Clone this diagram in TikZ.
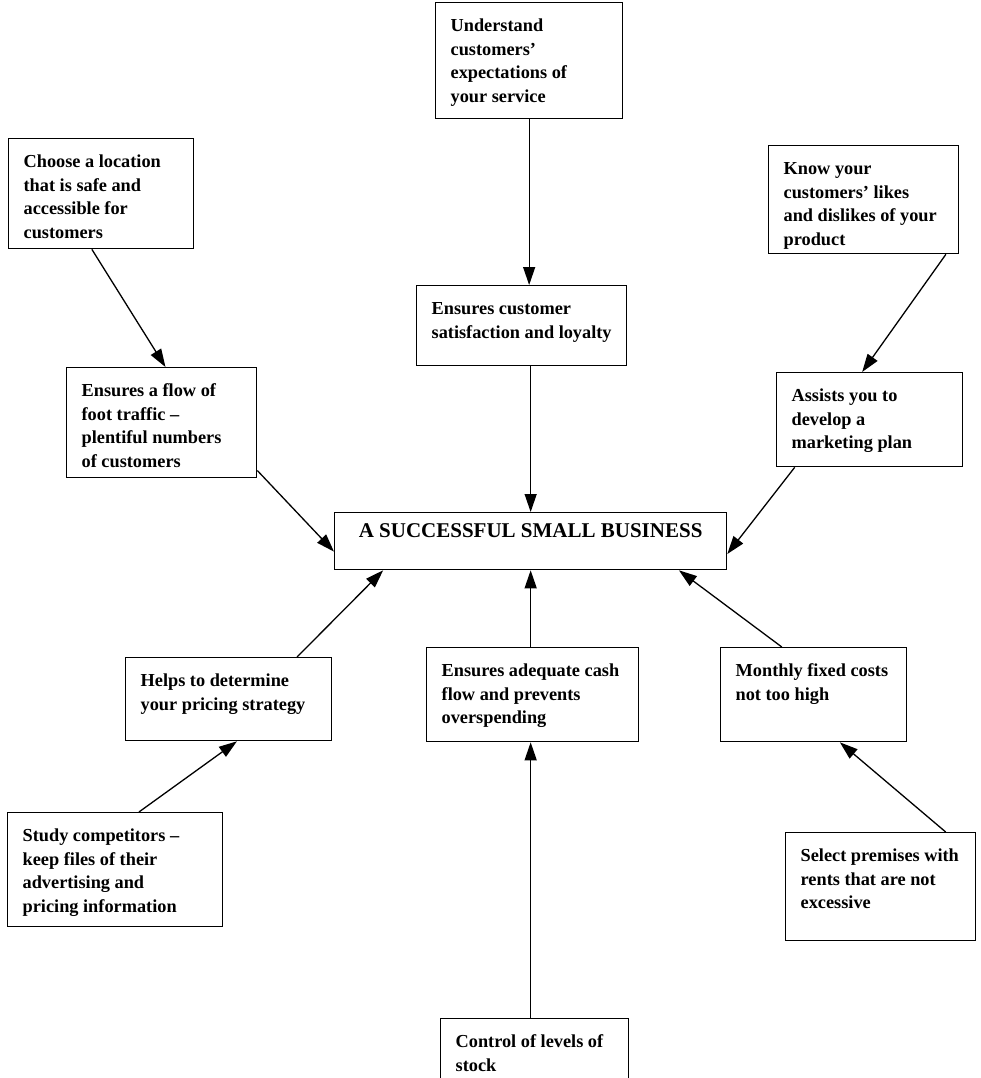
\documentclass[tikz,border=0pt]{standalone}
\usepackage{fontspec}
\setmainfont{Liberation Serif}
\usetikzlibrary{arrows.meta,calc}
% top-aligned text block of fixed width and height
\newcommand\boxtext[3]{\parbox[c][#2][t]{#1}{\raggedright\rule{0pt}{29pt}#3}}
\begin{document}
\begin{tikzpicture}[x=1pt,y=-1pt,
  bx/.style={draw, line width=1.3pt, inner xsep=15pt, inner ysep=0pt, anchor=north west,
             font=\bfseries\fontsize{18.3}{23.5}\selectfont},
  arr/.style={line width=1.3pt, -{Triangle[length=18pt,width=12pt]}}]
\useasboundingbox (0,0) rectangle (980,1078);

% outer ring of boxes
\node[bx] (u) at (435,2) {\boxtext{157pt}{116pt}{Understand\\customers’\\expectations of\\your service}};
\node[bx] (loc) at (8,138) {\boxtext{155pt}{110pt}{Choose a location\\that is safe and\\accessible for\\customers}};
\node[bx] (likes) at (768,145) {\boxtext{160pt}{108pt}{Know your\\customers’ likes\\and dislikes of your\\product}};
\node[bx] (sat) at (416,285) {\boxtext{180pt}{80pt}{Ensures customer\\satisfaction and loyalty}};
\node[bx] (foot) at (66,367) {\boxtext{160pt}{110pt}{Ensures a flow of\\foot traffic --\\plentiful numbers\\of customers}};
\node[bx] (mkt) at (776,372) {\boxtext{156pt}{94pt}{Assists you to\\develop a\\marketing plan}};

% centre
\node[bx] (centre) at (334,512) {\parbox[c][57pt][t]{362pt}{\centering\fontsize{21}{24}\selectfont\rule{0pt}{25pt}A SUCCESSFUL SMALL BUSINESS}};

% lower ring
\node[bx] (price) at (125,657) {\boxtext{176pt}{83pt}{Helps to determine\\your pricing strategy}};
\node[bx] (cash) at (426,647) {\boxtext{182pt}{94pt}{Ensures adequate cash\\flow and prevents\\overspending}};
\node[bx] (monthly) at (720,647) {\boxtext{156pt}{94pt}{Monthly fixed costs\\not too high}};
\node[bx] (study) at (7,812) {\boxtext{185pt}{114pt}{Study competitors --\\keep files of their\\advertising and\\pricing information}};
\node[bx] (select) at (785,832) {\boxtext{160pt}{108pt}{Select premises with\\rents that are not\\excessive}};
\begin{scope}
  \clip (0,0) rectangle (980,1078);
  \node[bx] (control) at (440,1018) {\boxtext{158pt}{80pt}{Control of levels of\\stock}};
\end{scope}

% connectors
\draw[arr] (u.south) -- (u.south |- sat.north);
\draw[arr] (centre.north |- sat.south) -- (centre.north);
\draw[arr] ($(loc.south west)!0.45!(loc.south east)$) -- ($(foot.north west)!0.52!(foot.north east)$);
\draw[arr] ($(likes.south west)!0.93!(likes.south east)$) -- ($(mkt.north west)!0.46!(mkt.north east)$);
\draw[arr] ($(foot.north east)!0.93!(foot.south east)$) -- ($(centre.north west)!0.68!(centre.south west)$);
\draw[arr] ($(mkt.south west)!0.1!(mkt.south east)$) -- ($(centre.north east)!0.72!(centre.south east)$);
\draw[arr] ($(price.north west)!0.83!(price.north east)$) -- ($(centre.south west)!0.125!(centre.south east)$);
\draw[arr] (centre.south |- cash.north) -- (centre.south);
\draw[arr] ($(monthly.north west)!0.33!(monthly.north east)$) -- ($(centre.south west)!0.877!(centre.south east)$);
\draw[arr] ($(study.north west)!0.61!(study.north east)$) -- ($(price.south west)!0.54!(price.south east)$);
\draw[arr] (centre.south |- control.north) -- (centre.south |- cash.south);
\draw[arr] ($(select.north west)!0.84!(select.north east)$) -- ($(monthly.south west)!0.64!(monthly.south east)$);
\end{tikzpicture}
\end{document}
